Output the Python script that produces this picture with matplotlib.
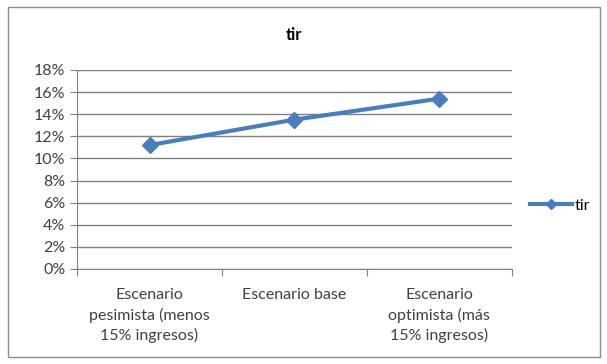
import matplotlib.pyplot as plt
from matplotlib.patches import Rectangle
from matplotlib.ticker import FuncFormatter

categorias = ['Escenario\npesimista (menos\n15% ingresos)',
              'Escenario base',
              'Escenario\noptimista (más\n15% ingresos)']
tir = [0.112, 0.135, 0.154]
yticks = [0, 0.02, 0.04, 0.06, 0.08, 0.10, 0.12, 0.14, 0.16, 0.18]

plt.rcParams['font.family'] = ['Lato', 'DejaVu Sans']

fig = plt.figure(figsize=(6.07, 3.64), dpi=100)
fig.patches.append(Rectangle((0.013, 0.018), 0.975, 0.962, transform=fig.transFigure,
                             fill=False, edgecolor='#8c8c8c', linewidth=1.0))
ax = fig.add_axes([0.127, 0.261, 0.716, 0.547])

x = list(range(len(categorias)))
ax.plot(x, tir, color='#4a7ebb', linewidth=3, marker='D', markersize=8,
        label='tir', zorder=3)

ax.set_xlim(-0.5, len(categorias) - 0.5)
ax.set_ylim(0, 0.18)
ax.set_yticks(yticks)
ax.yaxis.set_major_formatter(FuncFormatter(lambda v, p: '%d%%' % round(v * 100)))
ax.grid(axis='y', color='#808080', linewidth=1)
ax.set_axisbelow(True)

ax.set_xticks([i - 0.5 for i in range(len(categorias) + 1)])
ax.set_xticklabels([])
ax.set_xticks(x, minor=True)
ax.set_xticklabels(categorias, minor=True, fontsize=11.5, color='#404040',
                   linespacing=1.45)
ax.tick_params(axis='x', which='minor', length=0, pad=14)
ax.tick_params(axis='x', which='major', length=5, color='#808080')
ax.tick_params(axis='y', length=5, color='#808080', labelsize=11.5, labelcolor='#404040')

for s in ['top', 'right']:
    ax.spines[s].set_visible(False)
for s in ['left', 'bottom']:
    ax.spines[s].set_color('#808080')

fig.text(0.485, 0.905, 'tir', ha='center', va='center', fontsize=12,
         fontweight='bold', color='#000000')

ax.legend(loc='center left', bbox_to_anchor=(1.01, 0.317), frameon=False,
          fontsize=11.5, handlelength=2.6, handletextpad=0.2, markerscale=0.6)

fig.savefig('out.png', dpi=100)
